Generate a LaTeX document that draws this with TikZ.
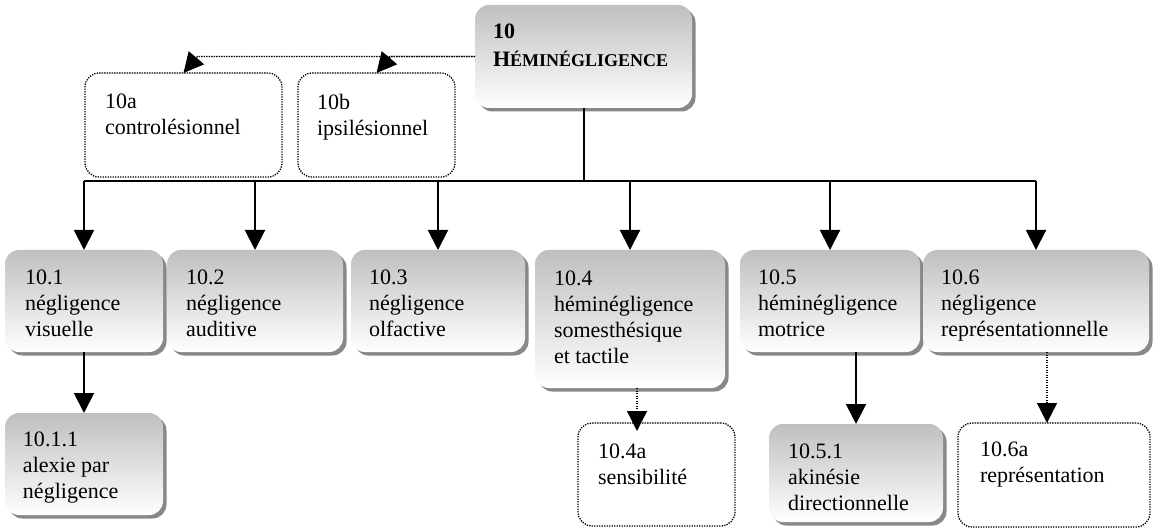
\documentclass[tikz,border=0pt]{standalone}
\usepackage{fontspec}
\setmainfont{Liberation Serif}
\usetikzlibrary{arrows.meta,shadows,calc}
\begin{document}
\begin{tikzpicture}[x=1pt,y=-1pt,
  gbox/.style={rounded corners=14pt, top color=black!25, bottom color=white, draw=none,
    inner sep=0pt, outer sep=0pt, anchor=north west,
    drop shadow={shadow xshift=3.5pt, shadow yshift=-3.5pt, fill=black!55, opacity=0.85}},
  dbox/.style={rounded corners=14pt, draw=black, line width=1.3pt, dash pattern=on 1.3pt off 1.2pt,
    fill=white, inner sep=0pt, outer sep=0pt, anchor=north west},
  txt/.style={anchor=north west, align=left, inner sep=0pt, outer sep=0pt,
    font=\fontsize{22}{26}\selectfont},
  conn/.style={line width=2pt},
  sarrow/.style={line width=2pt, -{Triangle[length=20pt,width=20pt]}},
  darrow/.style={line width=1.3pt, dash pattern=on 1.3pt off 1.2pt, -{Triangle[length=20pt,width=20pt]}},
]
\useasboundingbox (0,0) rectangle (1153,529);

% boxes
\node[gbox, minimum width=217pt, minimum height=103pt] (top) at (475,5) {};
\node[dbox, minimum width=197pt, minimum height=104pt] (ba) at (85,73) {};
\node[dbox, minimum width=157pt, minimum height=104pt] (bb) at (298,73) {};

\node[gbox, minimum width=158pt, minimum height=102pt] (b1) at (5,250) {};
\node[gbox, minimum width=176pt, minimum height=102pt] (b2) at (167,250) {};
\node[gbox, minimum width=174pt, minimum height=102pt] (b3) at (351,250) {};
\node[gbox, minimum width=190pt, minimum height=138pt] (b4) at (535,250) {};
\node[gbox, minimum width=180pt, minimum height=102pt] (b5) at (740,250) {};
\node[gbox, minimum width=226pt, minimum height=102pt] (b6) at (923,250) {};

\node[gbox, minimum width=158pt, minimum height=102pt] (b11) at (5,413) {};
\node[dbox, minimum width=157pt, minimum height=103pt] (b4a) at (578,423) {};
\node[gbox, minimum width=174pt, minimum height=98pt] (b51) at (769,424) {};
\node[dbox, minimum width=192pt, minimum height=104pt] (b6a) at (958,423) {};

% texts
\node[txt, font=\fontsize{22}{28}\selectfont\bfseries] (ttop) at (493,24)
  {10\\H{\fontsize{18}{28}\selectfont ÉMINÉGLIGENCE}};
\node[txt] (tba) at (105,94) {10a\\controlésionnel};
\node[txt] (tbb) at (317,94) {10b\\ipsilésionnel};
\node[txt] (tb1) at (25,270) {10.1\\négligence\\visuelle};
\node[txt] (tb2) at (186,270) {10.2\\négligence\\auditive};
\node[txt] (tb3) at (369,270) {10.3\\négligence\\olfactive};
\node[txt] (tb4) at (554,271) {10.4\\héminégligence\\somesthésique\\et tactile};
\node[txt] (tb5) at (758,270) {10.5\\héminégligence\\motrice};
\node[txt] (tb6) at (941,270) {10.6\\négligence\\représentationnelle};
\node[txt] (tb11) at (23,432) {10.1.1\\alexie par\\négligence};
\node[txt] (tb4a) at (598,444) {10.4a\\sensibilité};
\node[txt] (tb51) at (788,444) {10.5.1\\akinésie\\directionnelle};
\node[txt] (tb6a) at (980,442) {10.6a\\représentation};

% connectors
\coordinate (bus) at (0,181);
\draw[conn] (top.south) -- (top.south |- bus);
\draw[conn] (b1.north |- bus) -- (b6.north |- bus);
\foreach \b in {b1,b2,b3,b4,b5,b6}
  \draw[sarrow] (\b.north |- bus) -- (\b.north);

\draw[darrow] (top.west) -- ($(ba.north |- top.west)+(14,0)$) -- (ba.north);
\draw[darrow] (top.west) -- ($(bb.north |- top.west)+(14,0)$) -- (bb.north);

\draw[sarrow] (b1.south) -- (b11.north);
\draw[darrow] ($(b4.south)+(7,0)$) -- ($(b4.south |- b4a.north)+(7,8)$);
\draw[sarrow] (b51.north |- b5.south) -- (b51.north);
\draw[darrow] ($(b6a.north |- b6.south)+(-7,0)$) -- ($(b6a.north)+(-7,0)$);
\end{tikzpicture}
\end{document}
